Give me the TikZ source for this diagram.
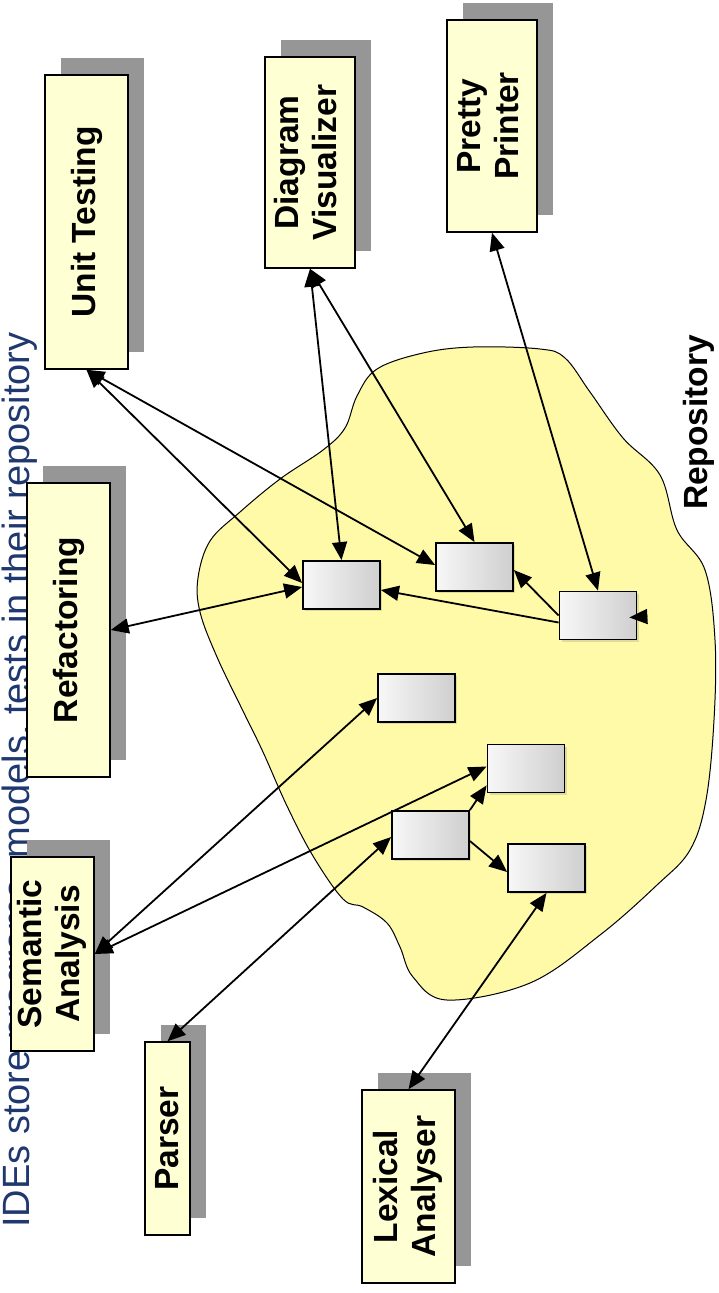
\documentclass[tikz,border=0pt]{standalone}
\usepackage{graphicx}
\usepackage{fontspec}
\setmainfont{Liberation Sans}
\usepackage{tikz}
\usetikzlibrary{arrows.meta,shadows,backgrounds}
\definecolor{blobyellow}{RGB}{255,250,168}
\definecolor{toolyellow}{RGB}{255,255,212}
\definecolor{shadowgray}{RGB}{150,150,150}
\definecolor{titleblue}{RGB}{31,56,112}
\newcommand{\blobcolor}{blobyellow}
\newcommand{\boxcolor}{toolyellow}
\newcommand{\labelfont}{\fontsize{33.5}{38}\selectfont\bfseries}
\tikzset{
  head/.tip={Triangle[length=18pt,width=15pt]},
  link/.style={line width=1.8pt,head-head},
  uses/.style={line width=1.8pt,-head}}

\begin{document}
\begin{tikzpicture}[x=1pt,y=-1pt,
  tool/.style={draw,line width=1.5pt,fill=\boxcolor,inner sep=0pt,
    drop shadow={shadow xshift=16pt,shadow yshift=17pt,fill=shadowgray,opacity=1}},
  module/.style={draw,line width=1.8pt,left color=gray!6,right color=gray!38,
    minimum width=77pt,minimum height=48pt,inner sep=0pt,
    drop shadow={shadow xshift=2pt,shadow yshift=-2pt,opacity=.25}}]
\useasboundingbox (0,0) rectangle (718,1293);
%tools
\node[tool,minimum width=83pt,minimum height=294pt] (unit) at (86.5,222) {\rotatebox{90}{\labelfont Unit Testing}};
\node[tool,minimum width=90pt,minimum height=211pt] (diagram) at (310,162.5) {\rotatebox{90}{\labelfont\begin{tabular}{@{}c@{}}Diagram\\Visualizer\end{tabular}}};
\node[tool,minimum width=90pt,minimum height=212pt] (pretty) at (492,126) {\rotatebox{90}{\labelfont\begin{tabular}{@{}c@{}}Pretty\\Printer\end{tabular}}};
\node[tool,minimum width=83pt,minimum height=294pt] (refactor) at (68.5,630) {\rotatebox{90}{\labelfont Refactoring}};
\node[tool,minimum width=83pt,minimum height=194pt] (semantic) at (52.5,954) {\rotatebox{90}{\labelfont\begin{tabular}{@{}c@{}}Semantic\\Analysis\end{tabular}}};
\node[tool,minimum width=45pt,minimum height=193pt] (parser) at (167.5,1138.5) {\rotatebox{90}{\labelfont Parser}};
\node[tool,minimum width=93pt,minimum height=193pt] (lexical) at (408.5,1186.5) {\rotatebox{90}{\labelfont\begin{tabular}{@{}c@{}}Lexical\\Analyser\end{tabular}}};
%repository
\begin{scope}[on background layer]
\node[rotate=90,anchor=base west,inner sep=0pt,text=titleblue,font=\fontsize{38}{45}\selectfont] (title) at (29,1228) {IDEs store programs, models, tests in their repository};
\draw[fill=\blobcolor,line width=1pt] plot[smooth cycle,tension=0.6] coordinates {
  (377,369) (423,353) (473,347) (540,349) (565,358) (590,392) (623,438)
  (660,475) (677,530) (705,570) (715,640) (714,720) (706,800) (690,850)
  (657,885) (600,935) (530,983) (447,1000) (413,977) (400,947) (387,923)
  (363,907) (343,899) (313,856) (287,806) (263,752) (243,711) (217,657)
  (200,612) (198,578) (210,541) (240,512) (280,479) (323,450) (345,428)
  (357,396)};
\end{scope}
\node[rotate=90,anchor=base,inner sep=0pt] (repo) at (707,422.5) {\labelfont Repository};
%modules
\node[module] (1) at (341.5,585) {};
\node[module] (2) at (474.5,567) {};
\node[module] (3) at (598,615.5) {};
\node[module] (4) at (416.5,698) {};
\node[module] (5) at (526,768.5) {};
\node[module] (6) at (430.5,835) {};
\node[module] (7) at (546.5,868) {};
%links
\draw[link] (unit.south) -- ([yshift=2pt]1.west);
\draw[link] (unit.south) -- ([yshift=2pt]2.west);
\draw[link] (diagram.south) -- (1.north);
\draw[link] (diagram.south) -- (2.north);
\draw[link] (pretty.south) -- (3.north);
\draw[link] (refactor.east) -- ([yshift=-2pt]1.west);
\draw[link] (semantic.east) -- (4.west);
\draw[link] (semantic.east) -- ([yshift=2pt]5.west);
\draw[link] (parser.north) -- ([yshift=-2pt]6.west);
\draw[link] (lexical.north) -- (7.south);
\draw[uses] ([yshift=-7pt]3.west) -- ([yshift=-5pt]1.east);
\draw[uses] (3.west) -- ([yshift=-3pt]2.east);
\draw[uses] (6.north east) -- ([yshift=8pt]5.south west);
\draw[uses] ([yshift=-6pt]6.east) -- ([yshift=-4pt]7.west);
\draw[uses] ([xshift=10pt,yshift=-1pt]3.east) -- ([xshift=-8pt,yshift=-2pt]3.east);
\end{tikzpicture}
\end{document}
